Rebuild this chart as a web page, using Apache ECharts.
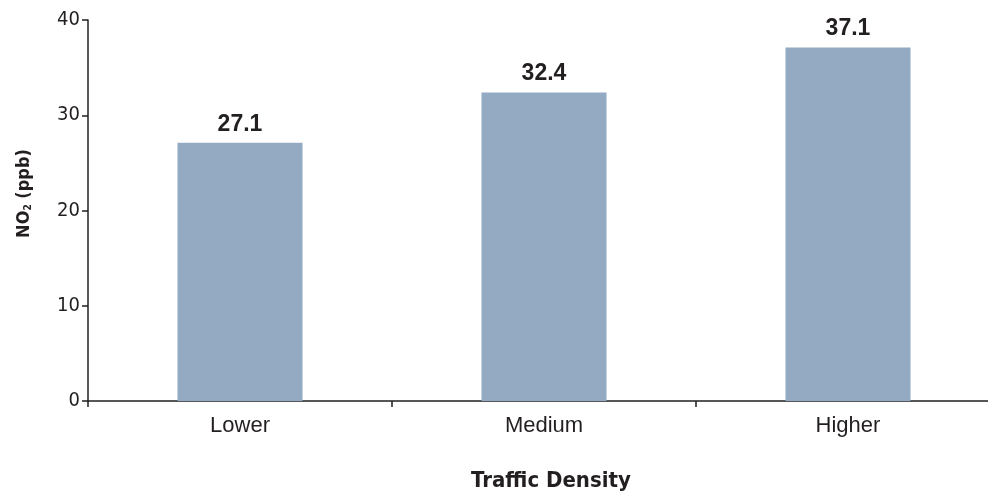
<!DOCTYPE html>
<html>
<head>
<meta charset="utf-8">
<script src="https://cdn.jsdelivr.net/npm/echarts@6/dist/echarts.min.js"></script>
<style>
  html, body { margin: 0; padding: 0; background: #fff; }
  #chart { width: 988px; height: 497px; }
</style>
</head>
<body>
<div id="chart"></div>
<script>
// Mean NO2 concentration by traffic density class
const categories = ['Lower', 'Medium', 'Higher'];
const no2Values = [27.1, 32.4, 37.1];
const yTicks = [0, 10, 20, 30, 40];

const narrow = '"Liberation Sans Narrow", "DejaVu Sans Condensed", "Arial Narrow", sans-serif';
const sans = '"Liberation Sans", Arial, sans-serif';
const ink = '#231f20';

const chart = echarts.init(document.getElementById('chart'));
chart.setOption({
  animation: false,
  // plot area runs past the right edge of the canvas
  grid: { left: 88, top: 20, width: 912, height: 381, containLabel: false, outerBoundsMode: 'none' },
  xAxis: {
    type: 'category',
    data: categories,
    name: 'Traffic Density',
    nameLocation: 'middle',
    nameGap: 69,
    nameTextStyle: { fontFamily: narrow, fontWeight: 'bold', fontSize: 22, color: ink, padding: [0, 0, 0, 14] },
    axisLine: { lineStyle: { color: ink, width: 1.5 } },
    axisTick: { show: true, length: 6, lineStyle: { color: ink, width: 1.5 } },
    axisLabel: { fontFamily: sans, fontSize: 22, color: ink, margin: 14 }
  },
  yAxis: {
    type: 'value',
    min: yTicks[0],
    max: yTicks[yTicks.length - 1],
    interval: 10,
    name: '{a|NO}{b|2}{a| (ppb)}',
    nameLocation: 'middle',
    nameGap: 55,
    nameRotate: 90,
    nameTextStyle: {
      padding: [0, 0, 0, 34],
      rich: {
        a: { fontFamily: narrow, fontWeight: 'bold', fontSize: 18, color: ink },
        b: { fontFamily: narrow, fontWeight: 'bold', fontSize: 10, color: ink, verticalAlign: 'bottom', padding: [5, 0, 0, 0] }
      }
    },
    splitLine: { show: false },
    axisLine: { show: true, lineStyle: { color: ink, width: 1.5 } },
    axisTick: { show: true, length: 6, lineStyle: { color: ink, width: 1.5 } },
    axisLabel: { fontFamily: narrow, fontSize: 20, color: ink, margin: 8 }
  },
  series: [{
    type: 'bar',
    data: no2Values,
    barWidth: 125,
    itemStyle: { color: '#94aac3' },
    label: {
      show: true,
      position: 'top',
      distance: 7,
      fontFamily: sans,
      fontWeight: 'bold',
      fontSize: 23,
      color: ink,
      formatter: p => p.value.toFixed(1)
    }
  }]
});
</script>
</body>
</html>
